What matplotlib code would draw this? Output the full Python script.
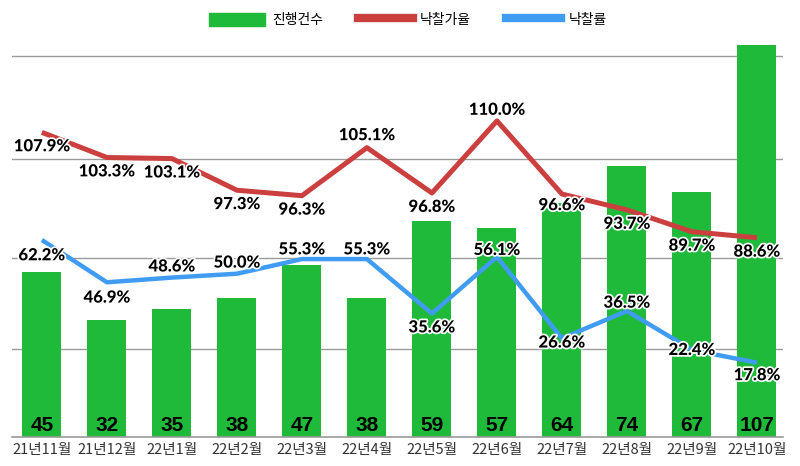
import matplotlib
matplotlib.use("Agg")
import matplotlib.pyplot as plt
import matplotlib.patheffects as pe
from matplotlib.patches import Patch
from matplotlib.lines import Line2D

months = ["21년11월", "21년12월", "22년1월", "22년2월", "22년3월", "22년4월",
          "22년5월", "22년6월", "22년7월", "22년8월", "22년9월", "22년10월"]
counts = [45, 32, 35, 38, 47, 38, 59, 57, 64, 74, 67, 107]
bid_price_rate = [107.9, 103.3, 103.1, 97.3, 96.3, 105.1, 96.8, 110.0, 96.6, 93.7, 89.7, 88.6]
win_rate = [62.2, 46.9, 48.6, 50.0, 55.3, 55.3, 35.6, 56.1, 26.6, 36.5, 22.4, 17.8]

# label offsets (points), negative = below the point
red_off = [-10, -10, -10, -10, -10, 9, -10, 8, -8, -10, -10, -10]
blue_off = [-11, -11, 8, 8, 7, 7, -10, 5, -3, 6, 0, -9]

GREEN = "#1fba3a"
RED = "#cc3f3f"
BLUE = "#3f9cf2"
KR = ["Noto Sans CJK KR", "DejaVu Sans"]

fig = plt.figure(figsize=(8, 4.66), dpi=100)
rect = [12/800, 29/466, 771/800, 410/466]
ax = fig.add_axes(rect)
axr = ax.twinx()
axb = ax.twinx()

x = list(range(len(months)))
ax.bar(x, counts, width=0.6, color=GREEN, zorder=2)
ax.set_ylim(0, 112)
ax.set_xlim(-0.46, 11.4)
ax.set_yticks([24, 49, 76, 104])
ax.yaxis.grid(True, color="#9a9a9a", linewidth=1, zorder=0)
ax.set_axisbelow(True)
ax.set_yticklabels([])
ax.tick_params(axis="both", length=0)
ax.set_xticks(x)
ax.set_xticklabels(months, family=KR, fontsize=10.5, color="#333333")
ax.tick_params(axis="x", pad=4)
for s in ["top", "left", "right"]:
    ax.spines[s].set_visible(False)
ax.spines["bottom"].set_color("#9a9a9a")
ax.spines["bottom"].set_linewidth(1.2)

axr.plot(x, bid_price_rate, color=RED, linewidth=3.6, solid_capstyle="butt")
axr.set_ylim(52.1, 127.2)
axb.plot(x, win_rate, color=BLUE, linewidth=3.2, solid_capstyle="butt")
axb.set_ylim(-9.1, 139.3)
for a in (axr, axb):
    a.axis("off")
    a.set_xlim(ax.get_xlim())

stroke = [pe.withStroke(linewidth=2.5, foreground="white")]
lab = dict(ha="center", va="center", fontsize=12, fontweight="black",
           family="Lato", color="black", textcoords="offset points",
           path_effects=stroke, annotation_clip=False)

for i, v in enumerate(counts):
    axb.annotate(str(v), xy=(i, 0), xycoords=ax.transData, xytext=(0, 8),
                 ha="center", va="center", fontsize=15, fontweight="bold",
                 family="Liberation Sans", color="black",
                 textcoords="offset points")
for i, v in enumerate(bid_price_rate):
    axb.annotate(f"{v:.1f}%", xy=(i, v), xycoords=axr.transData,
                 xytext=(0, red_off[i]), **lab)
for i, v in enumerate(win_rate):
    axb.annotate(f"{v:.1f}%", xy=(i, v), xycoords=axb.transData,
                 xytext=(0, blue_off[i]), **lab)

handles = [Patch(color=GREEN), Line2D([], [], color=RED, linewidth=6),
           Line2D([], [], color=BLUE, linewidth=6)]
fig.legend(handles, ["진행건수", "낙찰가율", "낙찰률"], loc="upper center",
           bbox_to_anchor=(0.51, 1.0), ncol=3, frameon=False, handlelength=4,
           handleheight=1.1, columnspacing=2.5, handletextpad=0.5,
           prop={"family": KR, "size": 10})

fig.savefig("out.png", dpi=100)
